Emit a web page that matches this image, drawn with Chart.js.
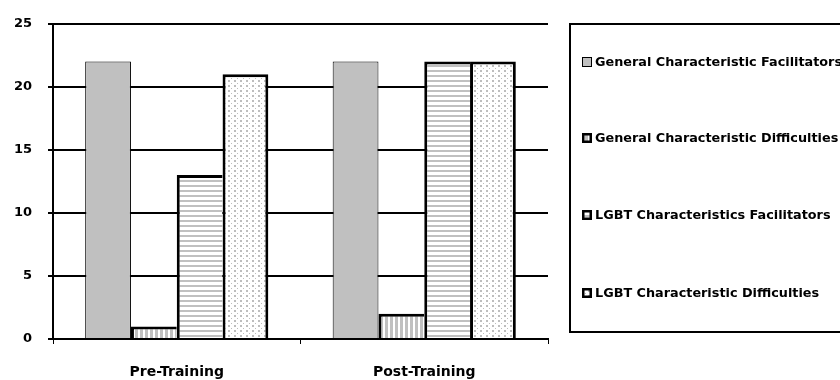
<!DOCTYPE html>
<html><head><meta charset="utf-8">
<script src="https://cdn.jsdelivr.net/npm/chart.js@4.4.1/dist/chart.umd.min.js"></script>
<style>html,body{margin:0;padding:0;background:#fff;overflow:hidden}#wrap{width:840px;height:380px;position:relative}</style>
</head><body><div id="wrap"><canvas id="c" width="840" height="380"></canvas></div>
<script>
const categories = ['Pre-Training', 'Post-Training'];
const seriesNames = ['General Characteristic Facilitators', 'General Characteristic Difficulties', 'LGBT Characteristics Facilitators', 'LGBT Characteristic Difficulties'];
const generalFacilitators = [22, 22];
const generalDifficulties = [1, 2];
const lgbtFacilitators = [13, 22];
const lgbtDifficulties = [21, 22];
const yTicks = [0, 5, 10, 15, 20, 25];

const canvas = document.getElementById('c');
const ctx = canvas.getContext('2d');

function makePattern(w, h, draw) {
  const c = document.createElement('canvas');
  c.width = w; c.height = h;
  const g = c.getContext('2d');
  g.fillStyle = '#fff'; g.fillRect(0, 0, w, h);
  draw(g);
  return ctx.createPattern(c, 'repeat');
}
const GRAY = '#c0c0c0';
const vertStripes = makePattern(5, 1, g => { g.fillStyle = GRAY; g.fillRect(0, 0, 3, 1); });
const horzStripes = makePattern(1, 5, g => { g.fillStyle = GRAY; g.fillRect(0, 0, 1, 2); });
const dots = makePattern(6, 5, g => { g.fillStyle = '#bdbdbd'; g.fillRect(0, 0, 2, 2); g.fillRect(3, 3, 1, 1); });

const FONT = '"DejaVu Sans", "Liberation Sans", sans-serif';
Chart.defaults.color = '#000';
Chart.defaults.font.family = FONT;

const legendBox = {
  id: 'legendBox',
  afterDraw(chart) {
    const c = chart.ctx;
    c.save();
    c.lineWidth = 2; c.strokeStyle = '#000';
    c.strokeRect(570, 24, 300, 308);
    const ys = [62, 138, 215, 293];
    c.font = 'bold 12.8px ' + FONT;
    c.textBaseline = 'middle'; c.textAlign = 'left'; c.fillStyle = '#000';
    chart.data.datasets.forEach((ds, i) => {
      const y = ys[i];
      c.fillStyle = ds.backgroundColor;
      c.fillRect(582, y - 5, 10, 10);
      if (i === 0) { c.lineWidth = 1; c.strokeRect(582.5, y - 4.5, 9, 9); }
      else { c.lineWidth = 2.5; c.strokeRect(583.25, y - 3.75, 7.5, 7.5); }
      c.fillStyle = '#000';
      c.fillText(ds.label, 595, y + 0.5);
    });
    c.restore();
  }
};

new Chart(ctx, {
  type: 'bar',
  data: {
    labels: categories,
    datasets: [
      { label: seriesNames[0], data: generalFacilitators, backgroundColor: GRAY, borderColor: '#000', borderWidth: 1 },
      { label: seriesNames[1], data: generalDifficulties, backgroundColor: vertStripes, borderColor: '#000', borderWidth: { top: 3, left: 3, right: 0, bottom: 0 } },
      { label: seriesNames[2], data: lgbtFacilitators, backgroundColor: horzStripes, borderColor: '#000', borderWidth: { top: 3, left: 3, right: 0, bottom: 0 } },
      { label: seriesNames[3], data: lgbtDifficulties, backgroundColor: dots, borderColor: '#000', borderWidth: { top: 3, left: 3, right: 3, bottom: 0 } }
    ]
  },
  options: {
    responsive: false,
    animation: false,
    devicePixelRatio: 1,
    categoryPercentage: 0.74,
    barPercentage: 1,
    layout: { padding: { top: 20, right: 292, left: 0, bottom: 0 } },
    plugins: { legend: { display: false }, tooltip: { enabled: false } },
    scales: {
      x: {
        afterFit: s => { s.height = 41; },
        grid: { offset: true, drawOnChartArea: false, drawTicks: true, tickLength: 5, color: '#000', lineWidth: 1 },
        border: { display: true, color: '#000', width: 2 },
        ticks: { padding: 20, font: { size: 14, weight: 'bold' }, color: '#000', maxRotation: 0 }
      },
      y: {
        min: 0, max: 25,
        afterFit: s => { s.width = 53; },
        afterBuildTicks: s => { s.ticks = yTicks.map(v => ({ value: v })); },
        grid: { color: '#000', lineWidth: 2, drawTicks: true, tickLength: 5 },
        border: { display: true, color: '#000', width: 2 },
        ticks: { padding: 16, font: { size: 13, weight: 'bold' }, color: '#000' }
      }
    }
  },
  plugins: [legendBox]
});
</script>
</body></html>
